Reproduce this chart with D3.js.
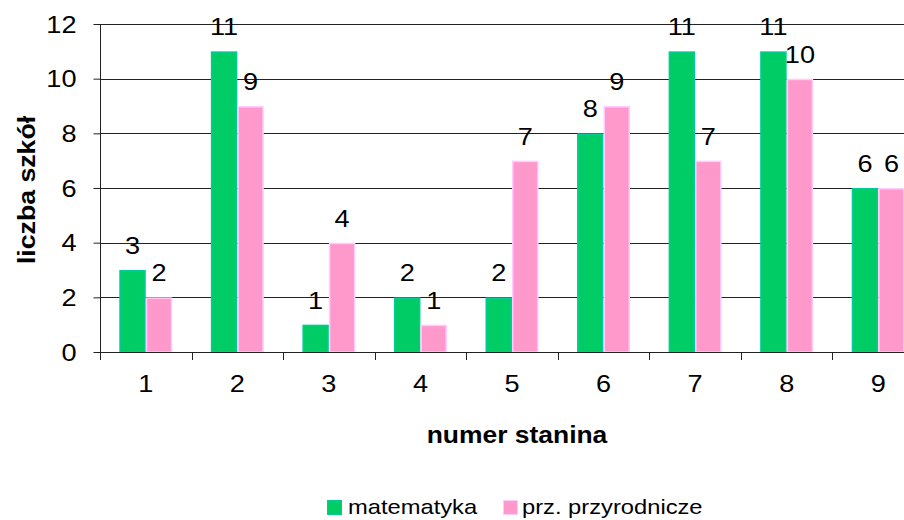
<!DOCTYPE html>
<html><head><meta charset="utf-8">
<script src="https://cdn.jsdelivr.net/npm/d3@7"></script>
<style>html,body{margin:0;padding:0;background:#fff;overflow:hidden}svg{display:block;font-family:"Liberation Sans",Arial,sans-serif}</style>
</head><body>
<svg id="c" width="904" height="520"></svg>
<script>
const categories = ["1","2","3","4","5","6","7","8","9"];
const matematyka = [3,11,1,2,2,8,11,11,6];
const przyrodnicze = [2,9,4,1,7,9,7,10,6];
const yTicks = [0,2,4,6,8,10,12];
const seriesNames = ["matematyka","prz. przyrodnicze"];

const svg = d3.select("#c");
const pLeft = 100, pRight = 924, pTop = 24, pBottom = 352;
const SX = 1.18, FS = 23;
const x = d3.scaleBand().domain(categories).range([pLeft, pRight]).padding(0);
const y = d3.scaleLinear().domain([0,12]).range([pBottom, pTop]);
const bw = 26.5;
const series = [
  {name: seriesNames[0], values: matematyka, fill: "#00CC66", stroke: "#00CC99"},
  {name: seriesNames[1], values: przyrodnicze, fill: "#FF99CC", stroke: "#FFCCFF"}
];
const sub = d3.scaleBand().domain([0,1]).range([0, bw*2]);
const off = (x.bandwidth() - bw*2)/2;

// gridlines
svg.append("g").selectAll("line").data(yTicks).join("line")
  .attr("x1", pLeft).attr("x2", 904)
  .attr("y1", d => Math.round(y(d))+0.5).attr("y2", d => Math.round(y(d))+0.5)
  .attr("stroke", "#222").attr("stroke-width", 1);

// bars
series.forEach((s, si) => {
  svg.append("g").selectAll("rect").data(s.values).join("rect")
    .attr("x", (d,i) => x(categories[i]) + off + sub(si) + 0.75)
    .attr("y", d => y(d) + 0.75)
    .attr("width", bw - 1.5)
    .attr("height", d => pBottom - y(d) - 0.75)
    .attr("fill", s.fill).attr("stroke", s.stroke).attr("stroke-width", 1.5);
  svg.append("g").selectAll("text").data(s.values).join("text")
    .attr("transform", (d,i) => `translate(${x(categories[i]) + off + sub(si) + bw/2},${y(d) - 16}) scale(${SX},1)`)
    .attr("text-anchor", "middle").attr("font-size", FS).attr("fill", "#000")
    .text(d => d);
});

// y axis
const ya = svg.append("g").attr("transform", `translate(${pLeft+0.5},0)`)
  .call(d3.axisLeft(y).tickValues(yTicks).tickSize(7).tickPadding(16).tickFormat(d3.format("d")));
ya.select(".domain").attr("stroke", "#222").attr("d", `M0,${pTop}V${pBottom}`);
ya.selectAll(".tick line").attr("stroke", "#222");
ya.selectAll(".tick text").attr("x", 0).attr("transform", `translate(-24,0) scale(${SX},1)`)
  .attr("font-size", FS).attr("fill", "#000").attr("font-family", "Liberation Sans, Arial, sans-serif").attr("dy", "0.36em");

// x axis
const xa = svg.append("g").attr("transform", `translate(0,${pBottom+0.5})`)
  .call(d3.axisBottom(x).tickSize(0).tickPadding(0));
xa.select(".domain").remove();
xa.selectAll(".tick text").attr("y", 0).attr("dy", 0).attr("transform", `translate(0,39) scale(${SX},1)`)
  .attr("font-size", FS).attr("fill", "#000").attr("font-family", "Liberation Sans, Arial, sans-serif");
svg.append("line").attr("x1", pLeft).attr("x2", 904).attr("y1", pBottom+0.5).attr("y2", pBottom+0.5).attr("stroke", "#222");
const bounds = categories.map(c => x(c)).concat([x(categories[categories.length-1]) + x.bandwidth()]);
svg.append("g").selectAll("line").data(bounds).join("line")
  .attr("x1", d => Math.round(d)+0.5).attr("x2", d => Math.round(d)+0.5)
  .attr("y1", pBottom).attr("y2", pBottom+8).attr("stroke", "#222");

// axis titles
svg.append("text").attr("transform", `translate(35,${(pTop+pBottom)/2 + 2}) rotate(-90) scale(1.16,1)`)
  .attr("text-anchor", "middle").attr("font-size", 23).attr("font-weight", "bold").text("liczba szkół");
svg.append("text").attr("transform", `translate(517,443) scale(1.15,1)`)
  .attr("text-anchor", "middle").attr("font-size", 23).attr("font-weight", "bold").text("numer stanina");

// legend
const legX = [327, 503];
series.forEach((s, si) => {
  const g = svg.append("g").attr("transform", `translate(${legX[si]},500)`);
  g.append("rect").attr("x", 0.5).attr("y", 0.5).attr("width", 14).attr("height", 14).attr("fill", s.fill).attr("stroke", s.stroke);
  g.append("text").attr("transform", `translate(${si ? 19 : 21},14) scale(1.13,1)`).attr("font-size", 21).attr("fill", "#000").text(s.name);
});
</script>
</body></html>
